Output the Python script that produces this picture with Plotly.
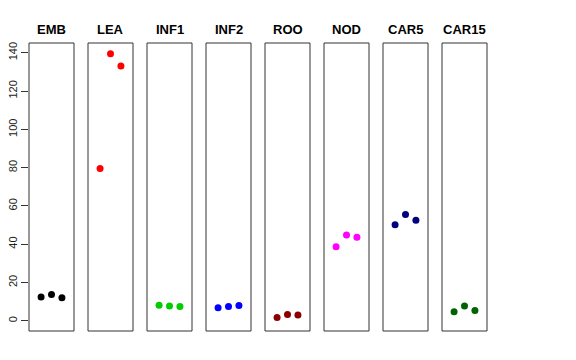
import plotly.graph_objects as go

groups = ["EMB", "LEA", "INF1", "INF2", "ROO", "NOD", "CAR5", "CAR15"]
colors = ["#000000", "#FF0000", "#00CD00", "#0000FF", "#8B0000", "#FF00FF", "#000080", "#006400"]
x_pos = [1, 2, 3]
emb = [12.5, 13.8, 12.0]
lea = [79.6, 139.5, 133.1]
inf1 = [8.2, 7.7, 7.5]
inf2 = [6.8, 7.5, 8.0]
roo = [1.8, 3.3, 3.0]
nod = [38.7, 44.8, 43.6]
car5 = [50.2, 55.6, 52.5]
car15 = [4.7, 7.7, 5.4]
values = [emb, lea, inf1, inf2, roo, nod, car5, car15]
y_ticks = [0, 20, 40, 60, 80, 100, 120, 140]

W, H = 576, 360
fig = go.Figure()
layout = dict(
    width=W, height=H, margin=dict(l=0, r=0, t=0, b=0),
    plot_bgcolor="white", paper_bgcolor="white", showlegend=False,
    font=dict(family="Liberation Sans, Arial, sans-serif", color="black"),
)
y_top, y_bot = 43, 331
ydom = [1 - y_bot / H, 1 - y_top / H]
shapes = []
annotations = []
for i, (g, c, v) in enumerate(zip(groups, colors, values)):
    left = 29 + 59 * i
    right = left + 45
    xname = "x" if i == 0 else f"x{i+1}"
    axkey = "xaxis" if i == 0 else f"xaxis{i+1}"
    layout[axkey] = dict(domain=[left / W, right / W], range=[-0.16, 4.16],
                         showticklabels=False, ticks="", showgrid=False,
                         zeroline=False, showline=False, anchor="y", fixedrange=True)
    fig.add_trace(go.Scatter(x=x_pos, y=v, xaxis=xname, yaxis="y", mode="markers",
                             marker=dict(color=c, size=7, line=dict(width=0)),
                             cliponaxis=False))
    shapes.append(dict(type="rect", xref=f"{xname} domain", yref="y domain",
                       x0=0, x1=1, y0=0, y1=1, line=dict(color="#333333", width=1),
                       fillcolor="rgba(0,0,0,0)", layer="above"))
    annotations.append(dict(text=f"<b>{g}</b>", x=(left + right) / 2 / W, y=1 - 29 / H,
                            xref="paper", yref="paper", showarrow=False,
                            xanchor="center", yanchor="middle",
                            font=dict(size=13, color="black")))
layout["yaxis"] = dict(domain=ydom, range=[-5.3, 145.1], tickvals=y_ticks,
                       ticks="outside", ticklen=7, tickcolor="#333333", tickwidth=1,
                       tickangle=-90, tickfont=dict(size=11, color="#222222"),
                       showgrid=False, zeroline=False, showline=False, anchor="x",
                       fixedrange=True)
layout["shapes"] = shapes
layout["annotations"] = annotations
fig.update_layout(**layout)
fig.write_html("out.html", config={"displayModeBar": False},
               post_script="document.body.style.margin='0';document.body.style.padding='0';")
